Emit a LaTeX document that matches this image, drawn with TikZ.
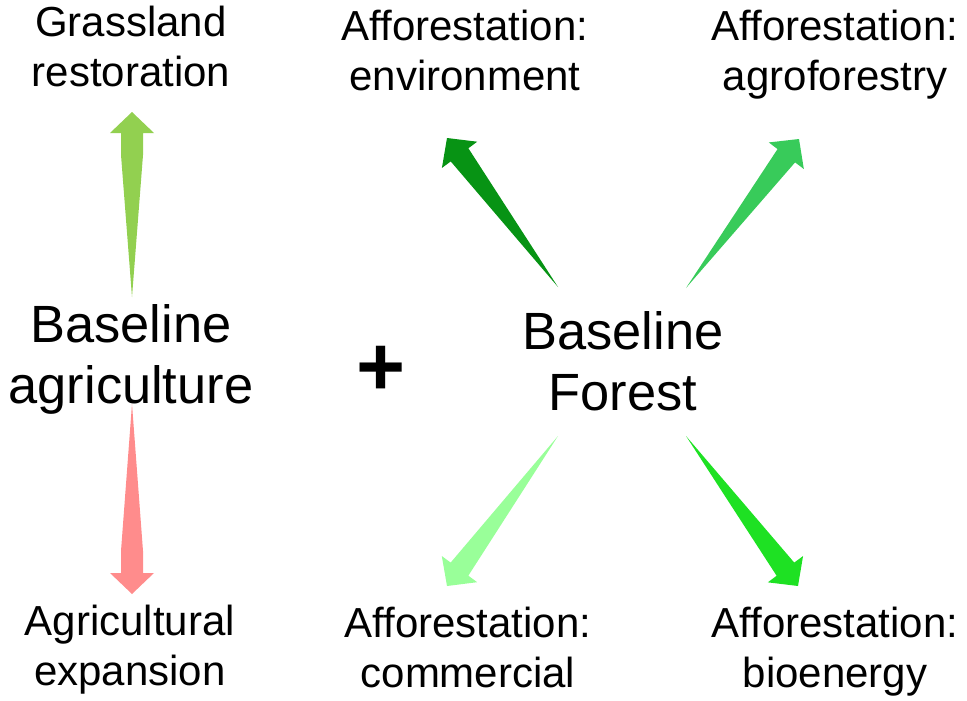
\documentclass[tikz,border=0pt]{standalone}
\usepackage{fontspec}
\setmainfont{Liberation Sans}
\usetikzlibrary{calc}

\definecolor{grassgreen}{RGB}{146,208,80}
\definecolor{expandred}{RGB}{255,140,140}
\definecolor{envgreen}{RGB}{7,147,20}
\definecolor{agrogreen}{RGB}{56,203,90}
\definecolor{commgreen}{RGB}{153,255,153}
\definecolor{bioengreen}{RGB}{30,225,35}

% tapered block arrow: colour, straight shaft length, tail, tip
\newcommand{\taperarrow}[4]{%
  \fill[#1] (#3)
    -- ($(#4)!15.75pt+#2!(#3)!8.25pt!90:(#4)$)
    -- ($(#4)!15.75pt!(#3)!8.25pt!90:(#4)$)
    -- ($(#4)!15.75pt!(#3)!16.5pt!90:(#4)$)
    -- (#4)
    -- ($(#4)!15.75pt!(#3)!16.5pt!-90:(#4)$)
    -- ($(#4)!15.75pt!(#3)!8.25pt!-90:(#4)$)
    -- ($(#4)!15.75pt+#2!(#3)!8.25pt!-90:(#4)$)
    -- cycle;}

\begin{document}
\begin{tikzpicture}[
    x=0.75pt, y=-0.75pt,
    label/.style={inner sep=0pt, anchor=base, align=center, font=\fontsize{31.5pt}{37.5pt}\selectfont},
    baseline/.style={inner sep=0pt, anchor=base, align=center, font=\fontsize{39.3pt}{45.75pt}\selectfont}
]
\useasboundingbox (0,0) rectangle (967,700);

% arrow ends
\coordinate (grass-tail) at (132,297);
\coordinate (grass-tip) at (132,112);
\coordinate (exp-tail) at (132,404);
\coordinate (exp-tip) at (132,594);
\coordinate (env-tail) at (558,287);
\coordinate (env-tip) at (447,138);
\coordinate (agro-tail) at (686,288);
\coordinate (agro-tip) at (799,139);
\coordinate (comm-tail) at (558,436);
\coordinate (comm-tip) at (447,586);
\coordinate (bio-tail) at (686,436);
\coordinate (bio-tip) at (798,586);

\taperarrow{grassgreen}{16.5pt}{grass-tail}{grass-tip}
\taperarrow{expandred}{16.5pt}{exp-tail}{exp-tip}
\taperarrow{envgreen}{0pt}{env-tail}{env-tip}
\taperarrow{agrogreen}{0pt}{agro-tail}{agro-tip}
\taperarrow{commgreen}{0pt}{comm-tail}{comm-tip}
\taperarrow{bioengreen}{0pt}{bio-tail}{bio-tip}

% texts (anchored at the baseline of the last line)
\node[baseline] (agri) at (131,403) {Baseline\\agriculture};
\node[baseline] (forest) at (623,410) {Baseline\\Forest};
\node[inner sep=0pt, font=\fontsize{63pt}{63pt}\selectfont\bfseries] (plus) at (381.5,371) {+};

\node[label] (grass) at (131,86) {Grassland\\restoration};
\node[label] (expansion) at (130,685) {Agricultural\\expansion};
\node[label] (env) at (465,90) {Afforestation:\\environment};
\node[label] (agro) at (835,90) {Afforestation:\\agroforestry};
\node[label] (comm) at (468,687) {Afforestation:\\commercial};
\node[label] (bio) at (835,687) {Afforestation:\\bioenergy};

\end{tikzpicture}
\end{document}
